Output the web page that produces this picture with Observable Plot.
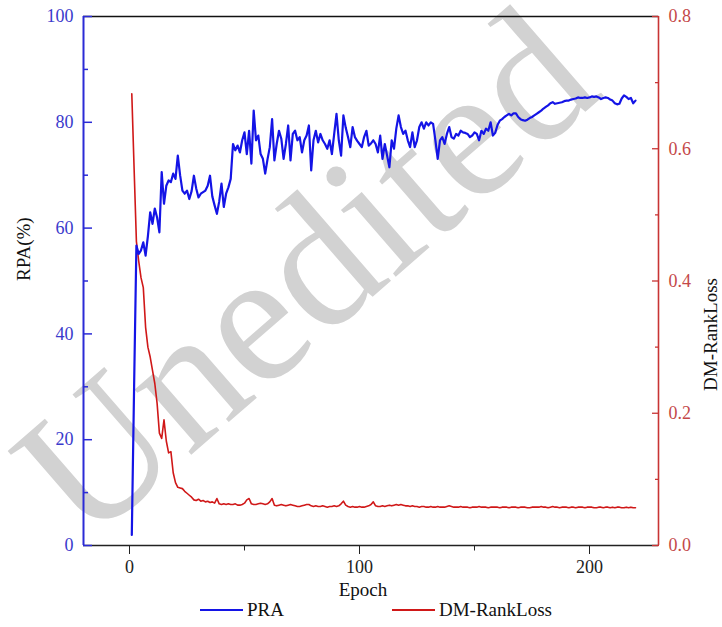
<!DOCTYPE html>
<html>
<head>
<meta charset="utf-8">
<script src="https://cdn.jsdelivr.net/npm/d3@7"></script>
<script src="https://cdn.jsdelivr.net/npm/@observablehq/plot@0.6"></script>
<style>
  body { margin: 0; background: #fff; }
  #wrap { position: relative; width: 722px; height: 627px; font-family: "Liberation Serif", "Times New Roman", serif; }
  #chart { position: absolute; left: 0; top: 0; }
  #legend { position: absolute; left: 0; top: 598px; width: 722px; height: 24px; font-size: 19px; color: #111; }
  .item { position: absolute; top: 0; display: flex; align-items: center; height: 24px; }
  .swatch { width: 43px; height: 0; border-top: 2px solid; margin-right: 4px; }
</style>
</head>
<body>
<div id="wrap">
  <div id="chart"></div>
  <div id="legend"></div>
</div>
<script>
// ---- data ----
const epochs = d3.range(1, 221);
const pra = [
  2, 30, 56.7, 55.1, 55.8, 57.3, 54.8, 58.5, 63, 60.8,
  63.7, 62, 59.2, 70.6, 64.6, 68, 69, 68.7, 70.3, 69.3,
  73.7, 70, 67.1, 66.5, 67.1, 65.5, 67, 69.9, 67.5, 65.8,
  66.5, 66.8, 67.1, 68, 69.9, 66, 64.3, 62.7, 65, 68.4,
  64, 66.5, 67.7, 69.3, 75.9, 74.7, 75.6, 74.3, 76.6, 78.1,
  74, 78.4, 72.2, 82.2, 76.6, 77.5, 74, 73.1, 70.3, 73,
  75.3, 80.6, 72.8, 75.9, 78.4, 76.9, 73.1, 75.9, 79.4, 72.8,
  77.8, 78.4, 76.6, 77.2, 74.3, 76.6, 77.5, 79.4, 70.9, 76.6,
  78.4, 76.2, 77.8, 76.6, 75.9, 75, 76.6, 74, 77.8, 81.6,
  76.6, 73.7, 81.3, 79, 77.2, 75.3, 79.1, 77.2, 76.5, 75.9,
  75.3, 77.2, 78.4, 75.6, 76, 76.6, 75.9, 74.3, 77.5, 73.1,
  75.9, 73.7, 71.5, 76.6, 75, 78.8, 81.3, 79.1, 77.8, 78.4,
  76.6, 75.3, 78.1, 75.3, 76.6, 79.1, 80, 78.8, 80, 79.4,
  80, 79.7, 76.6, 73.1, 76.6, 77.2, 75.9, 77.8, 79.1, 77.2,
  76.9, 77.8, 77.5, 78.4, 78.1, 78, 77.8, 77.2, 77.5, 78.1,
  77.8, 76.6, 78.4, 77.8, 78.8, 78.4, 80, 77.5, 78, 79.5,
  80.3, 80.6, 81, 81.3, 81.6, 81.3, 81.7, 81.7, 81, 80.6,
  80.4, 80.3, 80.5, 80.8, 81, 81.3, 81.6, 81.9, 82.2, 82.6,
  82.9, 83.2, 83.6, 83.8, 83.5, 83.6, 83.7, 83.8, 84, 84.1,
  84.1, 84.3, 84.4, 84.5, 84.7, 84.6, 84.6, 84.7, 84.6, 84.7,
  84.9, 84.8, 84.9, 84.7, 84.4, 84.6, 84.7, 84.6, 84.3, 84.1,
  83.6, 83.4, 83.5, 84.5, 85.1, 84.8, 84.4, 84.6, 83.6, 84.1
];
const rankLoss = [
  0.683, 0.57, 0.46, 0.43, 0.405, 0.39, 0.33, 0.30, 0.285, 0.265,
  0.245, 0.215, 0.17, 0.162, 0.19, 0.158, 0.14, 0.142, 0.11, 0.095,
  0.088, 0.087, 0.086, 0.082, 0.079, 0.076, 0.073, 0.069, 0.068, 0.070,
  0.067, 0.068, 0.066, 0.067, 0.065, 0.066, 0.064, 0.071, 0.063, 0.062,
  0.063, 0.062, 0.063, 0.062, 0.062, 0.063, 0.061, 0.061, 0.062, 0.064,
  0.069, 0.071, 0.063, 0.062, 0.062, 0.063, 0.064, 0.063, 0.062, 0.063,
  0.066, 0.071, 0.061, 0.060, 0.061, 0.062, 0.061, 0.060, 0.061, 0.062,
  0.061, 0.060, 0.059, 0.059, 0.060, 0.061, 0.062, 0.062, 0.060, 0.059,
  0.060, 0.059, 0.059, 0.060, 0.059, 0.058, 0.059, 0.059, 0.060, 0.059,
  0.060, 0.063, 0.067, 0.061, 0.059, 0.058, 0.059, 0.058, 0.058, 0.059,
  0.058, 0.058, 0.059, 0.060, 0.062, 0.066, 0.060, 0.059, 0.059, 0.060,
  0.059, 0.060, 0.061, 0.060, 0.061, 0.062, 0.061, 0.062, 0.061, 0.060,
  0.060, 0.059, 0.060, 0.059, 0.059, 0.058, 0.059, 0.059, 0.058, 0.058,
  0.059, 0.058, 0.058, 0.059, 0.058, 0.058, 0.058, 0.059, 0.060, 0.059,
  0.058, 0.058, 0.058, 0.059, 0.058, 0.058, 0.058, 0.057, 0.058, 0.058,
  0.058, 0.059, 0.058, 0.058, 0.058, 0.057, 0.058, 0.058, 0.058, 0.058,
  0.057, 0.058, 0.058, 0.058, 0.057, 0.058, 0.058, 0.058, 0.057, 0.058,
  0.058, 0.058, 0.057, 0.057, 0.058, 0.058, 0.058, 0.058, 0.059, 0.058,
  0.058, 0.057, 0.058, 0.059, 0.058, 0.058, 0.057, 0.058, 0.058, 0.058,
  0.057, 0.058, 0.058, 0.057, 0.058, 0.058, 0.058, 0.057, 0.058, 0.058,
  0.058, 0.057, 0.057, 0.058, 0.058, 0.057, 0.058, 0.058, 0.057, 0.058,
  0.057, 0.058, 0.058, 0.057, 0.057, 0.058, 0.057, 0.058, 0.057, 0.057
];
const xDomain = [-20, 230];
const praDomain = [0, 100];
const lossDomain = [0, 0.8];
const xTicks = [0, 100, 200];
const xMinorTicks = [50, 150];
const praTicks = [0, 20, 40, 60, 80, 100];
const praMinorTicks = [10, 30, 50, 70, 90];
const lossTicks = [0, 0.2, 0.4, 0.6, 0.8];
const lossMinorTicks = [0.1, 0.3, 0.5, 0.7];
const seriesNames = ["PRA", "DM-RankLoss"];
const yTitleLeft = "RPA(%)";
const yTitleRight = "DM-RankLoss";
const xTitle = "Epoch";
const watermark = "Unedited";

// ---- styling ----
const BLUE_LINE = "#1414e6";
const BLUE_AXIS = "#2b2bd6";
const BLUE_TEXT = "#3a3acc";
const RED_LINE = "#d01818";
const RED_AXIS = "#c83434";
const RED_TEXT = "#c44848";
const FONT = "'Liberation Serif', 'Times New Roman', serif";

const k = praDomain[1] / lossDomain[1]; // loss -> left-scale units
const rows = epochs.map((e, i) => ({epoch: e, pra: pra[i], loss: rankLoss[i]}));

const chart = Plot.plot({
  width: 722,
  height: 600,
  marginLeft: 83,
  marginRight: 64,
  marginTop: 16,
  marginBottom: 55,
  style: {fontFamily: FONT, fontSize: "18px", background: "transparent", overflow: "visible"},
  x: {domain: xDomain},
  y: {domain: praDomain},
  marks: [
    // watermark behind everything
    Plot.text([watermark], {text: d => d, frameAnchor: "middle", dx: -65, dy: -6, rotate: -41,
      fontSize: 188, fill: "#d2d2d2", fontFamily: FONT}),
    // frame lines
    Plot.ruleY([praDomain[0]], {stroke: "#222", strokeWidth: 1.5}),
    Plot.ruleY([praDomain[1]], {stroke: "#111", strokeWidth: 1.5}),
    Plot.ruleX([xDomain[0]], {stroke: BLUE_AXIS, strokeWidth: 2}),
    Plot.ruleX([xDomain[1]], {stroke: RED_AXIS, strokeWidth: 1.6}),
    // x axis
    Plot.axisX(xTicks, {anchor: "bottom", tickSize: 9, tickPadding: 6, stroke: "#222", fill: "#222", label: null, fontSize: 18}),
    Plot.axisX(xMinorTicks, {anchor: "bottom", tickSize: 5.5, stroke: "#222", fill: "none", label: null}),
    // left axis (PRA)
    Plot.axisY(praTicks, {anchor: "left", tickSize: 0, tickPadding: 10, fill: BLUE_TEXT, label: null, fontSize: 18}),
    Plot.axisY(praTicks, {anchor: "left", tickSize: -9, stroke: BLUE_AXIS, strokeWidth: 1.5, fill: "none", label: null}),
    Plot.axisY(praMinorTicks, {anchor: "left", tickSize: -5, stroke: BLUE_AXIS, strokeWidth: 1.5, fill: "none", label: null}),
    // right axis (loss)
    Plot.axisY(lossTicks.map(v => v * k), {anchor: "right", tickSize: 0, tickPadding: 10, fill: RED_TEXT, label: null, fontSize: 18,
      tickFormat: d => (d / k).toFixed(1)}),
    Plot.axisY(lossTicks.map(v => v * k), {anchor: "right", tickSize: -7, stroke: RED_AXIS, strokeWidth: 1.3, fill: "none", label: null}),
    Plot.axisY(lossMinorTicks.map(v => v * k), {anchor: "right", tickSize: -4, stroke: RED_AXIS, strokeWidth: 1.3, fill: "none", label: null}),
    // axis titles
    Plot.text([yTitleLeft], {text: d => d, frameAnchor: "left", dx: -60, rotate: -90, fontSize: 19, fill: "#111"}),
    Plot.text([yTitleRight], {text: d => d, frameAnchor: "right", dx: 52, dy: -3, rotate: -90, fontSize: 19, fill: "#111"}),
    Plot.text([xTitle], {text: d => d, frameAnchor: "bottom", dx: -8, dy: 50, fontSize: 19, fill: "#111"}),
    // series
    Plot.line(rows, {x: "epoch", y: d => d.loss * k, stroke: RED_LINE, strokeWidth: 1.6}),
    Plot.line(rows, {x: "epoch", y: "pra", stroke: BLUE_LINE, strokeWidth: 2.2})
  ]
});
document.getElementById("chart").appendChild(chart);

// legend below the chart
const legend = document.getElementById("legend");
const legendColors = [BLUE_LINE, RED_LINE];
const legendLefts = [200, 392];
seriesNames.forEach((name, i) => {
  const item = document.createElement("div");
  item.className = "item";
  item.style.left = legendLefts[i] + "px";
  const sw = document.createElement("span");
  sw.className = "swatch";
  sw.style.borderTopColor = legendColors[i];
  const label = document.createElement("span");
  label.textContent = name;
  item.appendChild(sw);
  item.appendChild(label);
  legend.appendChild(item);
});
</script>
</body>
</html>
